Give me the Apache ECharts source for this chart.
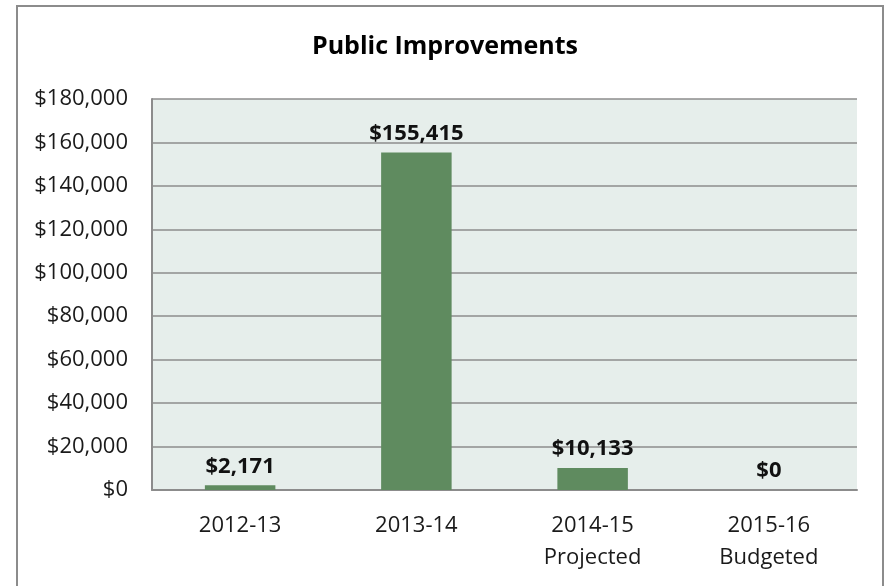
<!DOCTYPE html>
<html>
<head>
<meta charset="utf-8">
<script src="https://cdn.jsdelivr.net/npm/echarts@6/dist/echarts.min.js"></script>
<style>
  html, body { margin: 0; padding: 0; background: #ffffff; }
  #chart { width: 890px; height: 586px; }
</style>
</head>
<body>
<div id="chart"></div>
<script>
// Fiscal years shown on the category axis
const categories = ['2012-13', '2013-14', '2014-15\nProjected', '2015-16\nBudgeted'];
// Public improvements spending per year (dollars)
const spending = [2171, 155415, 10133, 0];
// Value axis range
const yMin = 0;
const yMax = 180000;
const yStep = 20000;

const font = '"Open Sans", "Noto Sans", sans-serif';
const money = v => '$' + Math.round(v).toLocaleString('en-US');

const chart = echarts.init(document.getElementById('chart'), null, { renderer: 'canvas' });
chart.setOption({
  animation: false,
  backgroundColor: '#ffffff',
  graphic: [{
    type: 'rect',
    shape: { x: 17, y: 6, width: 866, height: 600 },
    style: { fill: 'none', stroke: '#8c8c8c', lineWidth: 2 },
    silent: true
  }],
  title: {
    text: 'Public Improvements',
    left: 'center',
    top: 29,
    textStyle: { fontFamily: font, fontSize: 25, fontWeight: 'bold', color: '#000000' }
  },
  grid: {
    left: 152, right: 33, top: 99, bottom: 96,
    show: true,
    backgroundColor: '#e6eeeb',
    borderWidth: 0
  },
  xAxis: {
    type: 'category',
    data: categories,
    axisLine: { show: true, lineStyle: { color: '#8c8c8c', width: 2 } },
    axisTick: { show: false },
    axisLabel: {
      fontFamily: font, fontSize: 22, color: '#1a1a1a',
      margin: 20, lineHeight: 32
    }
  },
  yAxis: {
    type: 'value',
    min: yMin, max: yMax, interval: yStep,
    axisLine: { show: true, lineStyle: { color: '#8c8c8c', width: 2 } },
    axisTick: { show: false },
    splitLine: { lineStyle: { color: '#8c8c8c', width: 1.5 } },
    axisLabel: {
      fontFamily: font, fontSize: 22, color: '#1a1a1a', margin: 24,
      formatter: money
    }
  },
  series: [{
    type: 'bar',
    data: spending,
    barWidth: '40%',
    itemStyle: { color: '#5f8b5f' },
    label: {
      show: true,
      position: 'top',
      distance: 8,
      fontFamily: font, fontSize: 22, fontWeight: 'bold', color: '#111111',
      formatter: p => money(p.value)
    }
  }]
});
</script>
</body>
</html>
